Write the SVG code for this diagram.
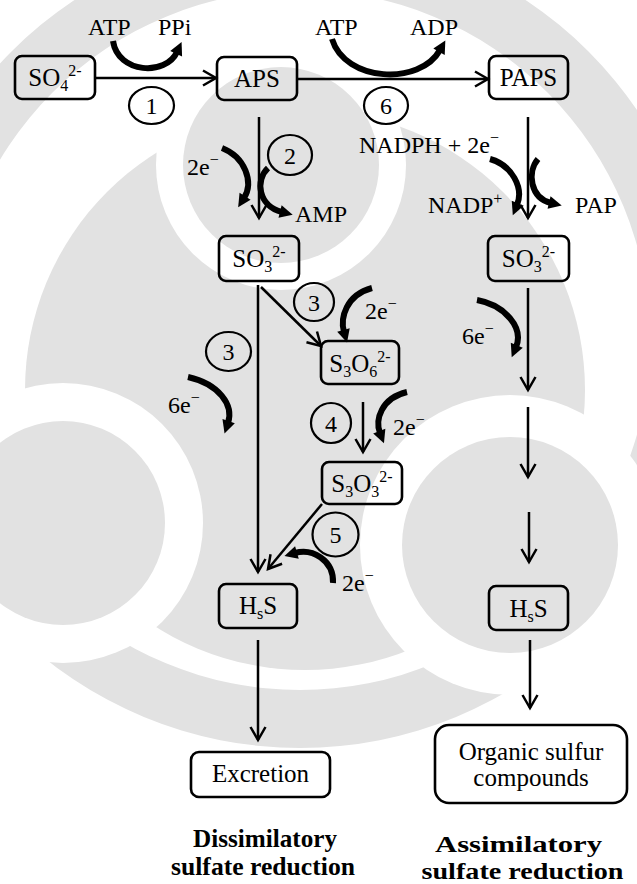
<svg xmlns="http://www.w3.org/2000/svg" width="637" height="884" viewBox="0 0 637 884">
<style>
  text { font-family: "Liberation Serif", "Times New Roman", serif; fill: #000; }
  .lbl { font-size: 24px; }
  .bx { font-size: 25px; }
  .num { font-size: 24px; text-anchor: middle; }
  .ttl { font-weight: bold; text-anchor: middle; }
  .box { fill: none; stroke: #000; stroke-width: 2.6; }
  .step { fill: none; stroke: #000; stroke-width: 2.2; }
  .ln { fill: none; stroke: #000; stroke-width: 2.5; marker-end: url(#open); }
  .cv { fill: none; stroke: #000; stroke-width: 6; marker-end: url(#fat); }
  .sm { font-size: 16px; }
  .wm { fill: #e2e2e2; }
  .wb { fill: #fff; }
</style>
<defs>
  <marker id="open" markerUnits="userSpaceOnUse" markerWidth="20" markerHeight="20" viewBox="-16 -10 20 20" refX="0" refY="0" orient="auto">
    <path d="M-13,-7.5 L0,0 L-13,7.5" fill="none" stroke="#000" stroke-width="2.5"/>
  </marker>
  <marker id="fat" markerUnits="userSpaceOnUse" markerWidth="24" markerHeight="24" viewBox="-4 -12 24 24" refX="0" refY="0" orient="auto">
    <path d="M-2,-6.5 L11,0 L-2,6.5 Z" fill="#000"/>
  </marker>
</defs>

<rect width="637" height="884" fill="#fff"/>

<!-- faint seal in the background -->
<g id="seal">
  <path class="wm" fill-rule="evenodd" d="M708,340 A408,408 0 1,0 -108,340 A408,408 0 1,0 708,340 Z M650,340 A350,350 0 1,0 -50,340 A350,350 0 1,0 650,340 Z"/>
  <circle class="wm" cx="305" cy="390" r="280"/>
  <circle class="wb" cx="63" cy="523" r="140"/>
  <circle class="wm" cx="63" cy="523" r="102"/>
  <circle class="wb" cx="510" cy="545" r="150"/>
  <circle class="wm" cx="510" cy="545" r="108"/>
  <circle class="wb" cx="281" cy="165" r="125"/>
  <circle class="wm" cx="281" cy="165" r="98"/>
</g>

<!-- connectors -->
<g id="connectors">
  <line class="ln" x1="95" y1="78" x2="216" y2="78"/>
  <line class="ln" x1="297" y1="79" x2="488" y2="79"/>
  <line class="ln" x1="259" y1="117" x2="259" y2="218"/>
  <line class="ln" x1="528" y1="117" x2="528" y2="218"/>
  <line class="ln" x1="258" y1="285" x2="258" y2="572"/>
  <line class="ln" x1="261" y1="287" x2="321" y2="346"/>
  <line class="ln" x1="363" y1="402" x2="363" y2="452"/>
  <line class="ln" x1="322" y1="504" x2="268" y2="569"/>
  <line class="ln" x1="258" y1="640" x2="258" y2="740"/>
  <line class="ln" x1="528" y1="288" x2="528" y2="390"/>
  <line class="ln" x1="528" y1="407" x2="528" y2="477"/>
  <line class="ln" x1="529" y1="512" x2="529" y2="562"/>
  <line class="ln" x1="530" y1="640" x2="530" y2="708"/>

  <!-- co-substrate arcs -->
  <path class="cv" d="M113,41 C118,74 166,76 177,52"/>
  <path class="cv" d="M332,39 C345,82 420,86 440,50"/>
  <path class="cv" d="M222,148 C245,157 254,182 244,198"/>
  <path class="cv" d="M268,168 C255,180 258,206 282,212"/>
  <path class="cv" d="M490,159 C512,165 524,188 517,205"/>
  <path class="cv" d="M538,159 C527,172 530,198 551,203"/>
  <path class="cv" d="M372,288 C346,295 340,318 344,332"/>
  <path class="cv" d="M188,377 C219,384 234,405 228,423"/>
  <path class="cv" d="M407,392 C381,398 375,420 380,433"/>
  <path class="cv" d="M333,583 C334,560 312,548 295,553"/>
  <path class="cv" d="M477,300 C505,305 524,328 516,347"/>
</g>

<!-- nodes -->
<g id="so4">
  <rect class="box" x="15" y="56" width="80" height="43" rx="7"/>
  <text class="bx" x="55" y="86" text-anchor="middle">SO<tspan class="sm" dy="5">4</tspan><tspan class="sm" dy="-15">2-</tspan></text>
</g>
<g id="aps">
  <rect class="box" x="217" y="57" width="80" height="43" rx="7"/>
  <text class="bx" x="257" y="87" text-anchor="middle">APS</text>
</g>
<g id="paps">
  <rect class="box" x="489" y="56" width="79" height="43" rx="7"/>
  <text class="bx" x="528.5" y="86" text-anchor="middle">PAPS</text>
</g>
<g id="so3-dis">
  <rect class="box" x="219" y="236" width="80" height="45" rx="7"/>
  <text class="bx" x="259" y="267" text-anchor="middle">SO<tspan class="sm" dy="5">3</tspan><tspan class="sm" dy="-15">2-</tspan></text>
</g>
<g id="so3-ass">
  <rect class="box" x="488" y="236" width="81" height="45" rx="7"/>
  <text class="bx" x="528.5" y="267" text-anchor="middle">SO<tspan class="sm" dy="5">3</tspan><tspan class="sm" dy="-15">2-</tspan></text>
</g>
<g id="s3o6">
  <rect class="box" x="321" y="341" width="78" height="43" rx="7"/>
  <text class="bx" x="360" y="372" text-anchor="middle">S<tspan class="sm" dy="5">3</tspan><tspan dy="-5">O</tspan><tspan class="sm" dy="5">6</tspan><tspan class="sm" dy="-15">2-</tspan></text>
</g>
<g id="s3o3">
  <rect class="box" x="322" y="462" width="80" height="42" rx="7"/>
  <text class="bx" x="362" y="492" text-anchor="middle">S<tspan class="sm" dy="5">3</tspan><tspan dy="-5">O</tspan><tspan class="sm" dy="5">3</tspan><tspan class="sm" dy="-15">2-</tspan></text>
</g>
<g id="h2s-dis">
  <rect class="box" x="219" y="584" width="78" height="44" rx="7"/>
  <text class="bx" x="258" y="614" text-anchor="middle">H<tspan class="sm" dy="5">s</tspan><tspan dy="-5">S</tspan></text>
</g>
<g id="h2s-ass">
  <rect class="box" x="489" y="586" width="79" height="44" rx="7"/>
  <text class="bx" x="528.5" y="617" text-anchor="middle">H<tspan class="sm" dy="5">s</tspan><tspan dy="-5">S</tspan></text>
</g>
<g id="excretion">
  <rect class="box" x="191" y="752" width="139" height="45" rx="8"/>
  <text class="bx" x="260.5" y="782" text-anchor="middle">Excretion</text>
</g>
<g id="organic">
  <rect class="box" x="435" y="725" width="192" height="78" rx="14"/>
  <text class="bx" x="531" y="760" text-anchor="middle">Organic sulfur</text>
  <text class="bx" x="531" y="786" text-anchor="middle">compounds</text>
</g>

<!-- enzyme step markers -->
<g id="steps">
  <ellipse class="step" cx="151.5" cy="105.5" rx="22.5" ry="18.5"/>
  <text class="num" x="151.5" y="114">1</text>
  <ellipse class="step" cx="290" cy="155" rx="22" ry="20"/>
  <text class="num" x="290" y="163.5">2</text>
  <ellipse class="step" cx="314" cy="302" rx="20" ry="19"/>
  <text class="num" x="314" y="310.5">3</text>
  <ellipse class="step" cx="228.5" cy="351.5" rx="22.5" ry="19.5"/>
  <text class="num" x="228.5" y="360">3</text>
  <ellipse class="step" cx="331" cy="423" rx="20" ry="20"/>
  <text class="num" x="331" y="431.5">4</text>
  <ellipse class="step" cx="335.5" cy="534.5" rx="23" ry="22"/>
  <text class="num" x="335.5" y="543">5</text>
  <ellipse class="step" cx="386" cy="105.5" rx="22" ry="18.5"/>
  <text class="num" x="386" y="114">6</text>
</g>

<!-- co-substrate labels -->
<g id="labels">
  <text class="lbl" x="88" y="35">ATP</text>
  <text class="lbl" x="158" y="35">PPi</text>
  <text class="lbl" x="315" y="35">ATP</text>
  <text class="lbl" x="410" y="35">ADP</text>
  <text class="lbl" x="359" y="153">NADPH + 2e<tspan class="sm" dy="-10">−</tspan></text>
  <text class="lbl" x="187" y="175">2e<tspan class="sm" dy="-10">−</tspan></text>
  <text class="lbl" x="295" y="222">AMP</text>
  <text class="lbl" x="428" y="213">NADP<tspan class="sm" dy="-9">+</tspan></text>
  <text class="lbl" x="575" y="213">PAP</text>
  <text class="lbl" x="365" y="319">2e<tspan class="sm" dy="-10">−</tspan></text>
  <text class="lbl" x="168" y="413">6e<tspan class="sm" dy="-10">−</tspan></text>
  <text class="lbl" x="393" y="435">2e<tspan class="sm" dy="-10">−</tspan></text>
  <text class="lbl" x="342" y="591">2e<tspan class="sm" dy="-10">−</tspan></text>
  <text class="lbl" x="462" y="344">6e<tspan class="sm" dy="-10">−</tspan></text>
</g>

<!-- pathway titles -->
<g id="titles">
  <text class="ttl" x="265" y="847" font-size="25" textLength="144" lengthAdjust="spacingAndGlyphs">Dissimilatory</text>
  <text class="ttl" x="263" y="875" font-size="25" textLength="184" lengthAdjust="spacingAndGlyphs">sulfate reduction</text>
  <text class="ttl" x="518.5" y="852" font-size="24" textLength="167" lengthAdjust="spacingAndGlyphs">Assimilatory</text>
  <text class="ttl" x="522.5" y="879" font-size="24" textLength="202" lengthAdjust="spacingAndGlyphs">sulfate reduction</text>
</g>
</svg>
